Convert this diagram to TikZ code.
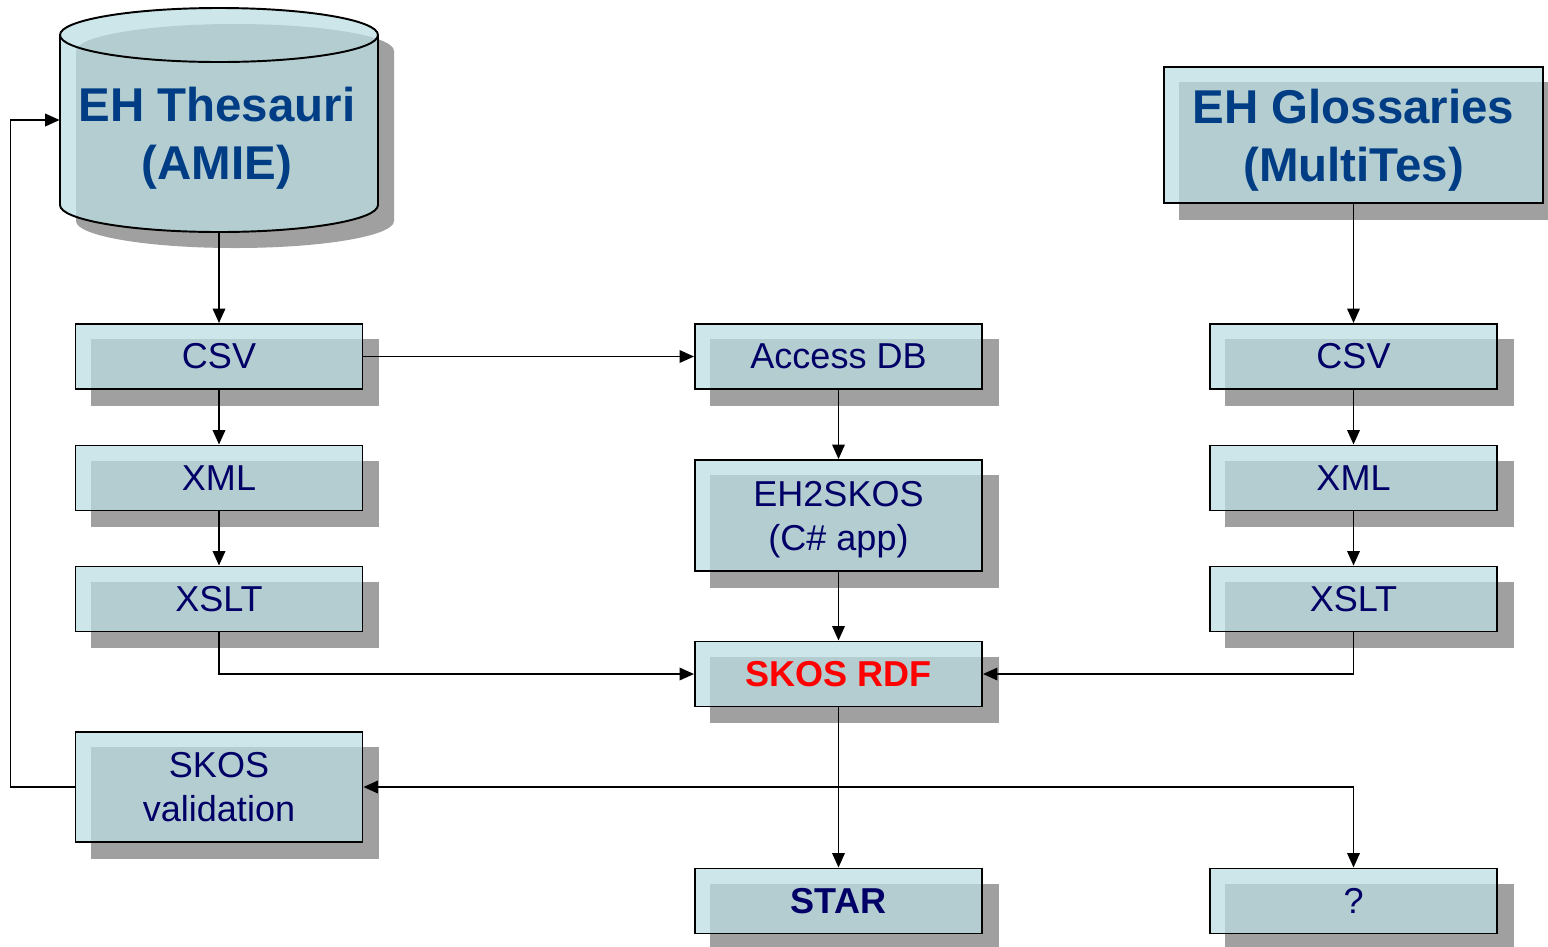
\documentclass[tikz,border=0pt]{standalone}
\usepackage{fontspec}
\setmainfont{Liberation Sans}
\usetikzlibrary{arrows.meta,backgrounds}
\definecolor{boxfill}{RGB}{187,221,227}
\definecolor{shadowgray}{RGB}{160,160,160}
\definecolor{navytext}{RGB}{0,0,102}
\definecolor{bigblue}{RGB}{0,61,133}

\begin{document}
\begin{tikzpicture}[x=0.2mm,y=-0.2mm,
    stage/.style={draw,line width=1.1pt,fill=boxfill,fill opacity=0.74,text opacity=1,
      minimum width=57.4mm,minimum height=13mm,inner sep=0pt,align=center,
      text=navytext,font=\fontsize{20.5}{25}\selectfont},
    big/.style={text=bigblue,align=center,font=\fontsize{27}{33}\selectfont\bfseries},
    flow/.style={line width=1.1pt,-{Triangle[length=2.9mm,width=2.5mm]}}]
  \useasboundingbox (0,0) rectangle (1548,946);
  % thesaurus drum
  \fill[shadowgray,shift={(16,16)}] (60,35) arc[start angle=180,end angle=360,x radius=159,y radius=27]
    -- (378,205) arc[start angle=0,end angle=180,x radius=159,y radius=27] -- cycle;
  \draw[line width=1.1pt,fill=boxfill,fill opacity=0.74] (60,35) arc[start angle=180,end angle=360,x radius=159,y radius=27]
    -- (378,205) arc[start angle=0,end angle=180,x radius=159,y radius=27] -- cycle;
  \draw[line width=1.1pt] (60,35) arc[start angle=180,end angle=0,x radius=159,y radius=27];
  \node[minimum width=63.6mm,minimum height=44.8mm] (amie) at (219,120) {};
  \node[big] (amietext) at (217,138) {EH Thesauri\\(AMIE)};
  % boxes
  \node[stage,big,text depth=0pt,minimum width=75.8mm,minimum height=27.2mm] (gloss) at (1353.5,135) {EH Glossaries\\(MultiTes)};
  \node[stage] (csvL) at (219,356.5) {CSV};
  \node[stage] (xmlL) at (219,478) {XML};
  \node[stage] (xsltL) at (219,599) {XSLT};
  \node[stage,minimum height=22mm] (val) at (219,787) {SKOS\\validation};
  \node[stage] (acc) at (838.5,356.5) {Access DB};
  \node[stage,text depth=0pt,minimum height=22.2mm] (eh2) at (838.5,515.5) {EH2SKOS\\(C\# app)};
  \node[stage,text=red,font=\fontsize{20.5}{25}\selectfont\bfseries] (rdf) at (838.5,674) {SKOS RDF};
  \node[stage,font=\fontsize{20.5}{25}\selectfont\bfseries] (star) at (838.5,901) {STAR};
  \node[stage] (csvR) at (1353.5,356.5) {CSV};
  \node[stage] (xmlR) at (1353.5,478) {XML};
  \node[stage] (xsltR) at (1353.5,599) {XSLT};
  \node[stage] (q) at (1353.5,901) {?};
  \begin{scope}[on background layer]
    \foreach \nm in {gloss,csvL,xmlL,xsltL,val,acc,eh2,rdf,star,csvR,xmlR,xsltR,q}
      \fill[shadowgray] ([shift={(16,16)}]\nm.north west) rectangle ([shift={(16,16)}]\nm.south east);
  \end{scope}
  % connectors
  \draw[flow] (amie) -- (csvL);
  \draw[flow] (csvL) -- (xmlL);
  \draw[flow] (xmlL) -- (xsltL);
  \draw[flow] (csvL) -- (acc);
  \draw[flow] (acc) -- (eh2);
  \draw[flow] (eh2) -- (rdf);
  \draw[flow] (gloss) -- (csvR);
  \draw[flow] (csvR) -- (xmlR);
  \draw[flow] (xmlR) -- (xsltR);
  \draw[flow] (xsltL) |- (rdf);
  \draw[flow] (xsltR) |- (rdf);
  \draw[flow] (rdf) -- (star);
  \coordinate (fork) at (rdf.south |- val.east);
  \draw[flow] (fork) -- (val);
  \draw[flow] (fork) -| (q);
  \draw[flow] (val.west) -- ++(-64,0) |- (amie);
\end{tikzpicture}
\end{document}
